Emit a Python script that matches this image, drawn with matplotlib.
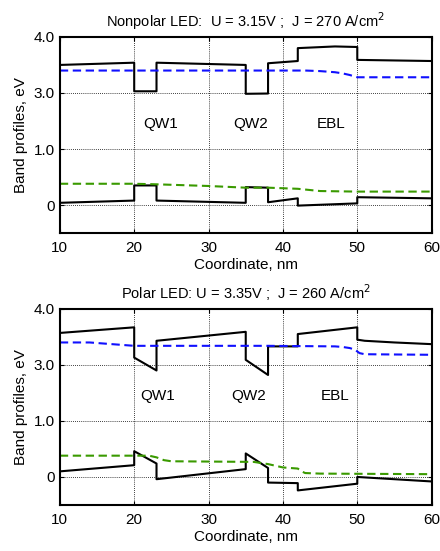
import numpy as np
import matplotlib
matplotlib.use('Agg')
import matplotlib.pyplot as plt

plt.rcParams['font.family'] = ['Liberation Sans', 'DejaVu Sans']

# ---- nonpolar LED ----
np_cb_x = [10, 20, 20, 23, 23, 35, 35, 38, 38, 42, 42, 47, 50, 50, 60]
np_cb_y = [3.50, 3.54, 3.03, 3.03, 3.54, 3.50, 2.97, 2.98, 3.53, 3.57, 3.80, 3.83, 3.82, 3.59, 3.57]
np_vb_x = [10, 20, 20, 23, 23, 35, 35, 38, 38, 42, 42, 50, 50, 60]
np_vb_y = [0.04, 0.08, 0.35, 0.35, 0.08, 0.04, 0.32, 0.31, 0.05, 0.12, -0.01, 0.03, 0.14, 0.12]
np_fe_x = [10, 43, 45, 47, 48, 49, 50, 60]
np_fe_y = [3.40, 3.40, 3.39, 3.37, 3.35, 3.32, 3.28, 3.28]
np_fh_x = [10, 20, 23, 30, 35, 38, 42, 45, 50, 60]
np_fh_y = [0.38, 0.38, 0.37, 0.34, 0.31, 0.31, 0.29, 0.25, 0.24, 0.24]

# ---- polar LED ----
p_cb_x = [10, 20, 20, 23, 23, 35, 35, 38, 38, 42, 42, 50, 50, 51, 55, 60]
p_cb_y = [3.57, 3.67, 3.13, 2.80, 3.43, 3.59, 3.09, 2.64, 3.33, 3.33, 3.55, 3.67, 3.45, 3.43, 3.40, 3.37]
p_vb_x = [10, 20, 20, 23, 23, 35, 35, 38, 38, 42, 42, 50, 50, 60]
p_vb_y = [0.10, 0.21, 0.46, 0.24, -0.04, 0.14, 0.42, 0.16, -0.10, -0.11, -0.24, -0.12, 0.00, -0.08]
p_fe_x = [10, 14, 17, 20, 38, 47, 48, 49, 49.7, 50.3, 51, 60]
p_fe_y = [3.40, 3.40, 3.37, 3.34, 3.34, 3.33, 3.32, 3.30, 3.27, 3.21, 3.19, 3.18]
p_fh_x = [10, 22, 23, 24, 25, 35, 36, 38, 40, 42, 42.5, 43, 45, 60]
p_fh_y = [0.38, 0.38, 0.35, 0.30, 0.28, 0.27, 0.27, 0.23, 0.17, 0.15, 0.10, 0.07, 0.06, 0.05]

titles = ['Nonpolar LED:  U = 3.15V ;  J = 270 A/cm$^2$',
          'Polar LED: U = 3.35V ;  J = 260 A/cm$^2$']
region_labels = ['QW1', 'QW2', 'EBL']
label_x = [[23.5, 35.6, 46.5], [23.1, 35.4, 47.0]]
label_y = 1.9


# compressed axis between 1 and 3 eV
def fwd(y):
    y = np.asarray(y, dtype=float)
    return np.where(y <= 1, y, np.where(y <= 3, 1 + (y - 1) / 2, y - 1))


def inv(t):
    t = np.asarray(t, dtype=float)
    return np.where(t <= 1, t, np.where(t <= 2, 1 + (t - 1) * 2, t + 1))


fig = plt.figure(figsize=(4.4, 5.51), dpi=100)
ax1 = fig.add_axes([0.136, 0.577, 0.845, 0.356])
ax2 = fig.add_axes([0.136, 0.0835, 0.845, 0.356])

data = [(np_cb_x, np_cb_y, np_vb_x, np_vb_y, np_fe_x, np_fe_y, np_fh_x, np_fh_y),
        (p_cb_x, p_cb_y, p_vb_x, p_vb_y, p_fe_x, p_fe_y, p_fh_x, p_fh_y)]

for i, ax in enumerate([ax1, ax2]):
    cbx, cby, vbx, vby, fex, fey, fhx, fhy = data[i]
    ax.set_yscale('function', functions=(fwd, inv))
    ax.plot(cbx, cby, color='black', lw=1.5)
    ax.plot(vbx, vby, color='black', lw=1.5)
    ax.plot(fex, fey, color='#1010ff', lw=1.5, ls=(0, (4, 2.2)))
    ax.plot(fhx, fhy, color='#3a9a00', lw=1.5, ls=(0, (4, 2.2)))
    for lab, lx in zip(region_labels, label_x[i]):
        ax.text(lx, label_y, lab, ha='center', va='center', fontsize=11)
    ax.set_xlim(10, 60)
    ax.set_ylim(-0.5, 4.0)
    ax.set_xticks([10, 20, 30, 40, 50, 60])
    ax.set_yticks([0, 1, 3, 4])
    ax.set_yticklabels(['0', '1.0', '3.0', '4.0'])
    ax.minorticks_off()
    ax.grid(True, color='black', ls=(0, (1, 1.5)), lw=0.6)
    ax.tick_params(direction='in', labelsize=11, length=3, top=True, right=True)
    ax.tick_params(axis='x', pad=6)
    for s in ax.spines.values():
        s.set_linewidth(1.5)
    ax.set_xlabel('Coordinate, nm', fontsize=11, labelpad=2)
    ax.set_ylabel('Band profiles, eV', fontsize=11, labelpad=4)
    ax.set_title(titles[i], fontsize=10.5, pad=7)

fig.savefig('out.png', dpi=100)
